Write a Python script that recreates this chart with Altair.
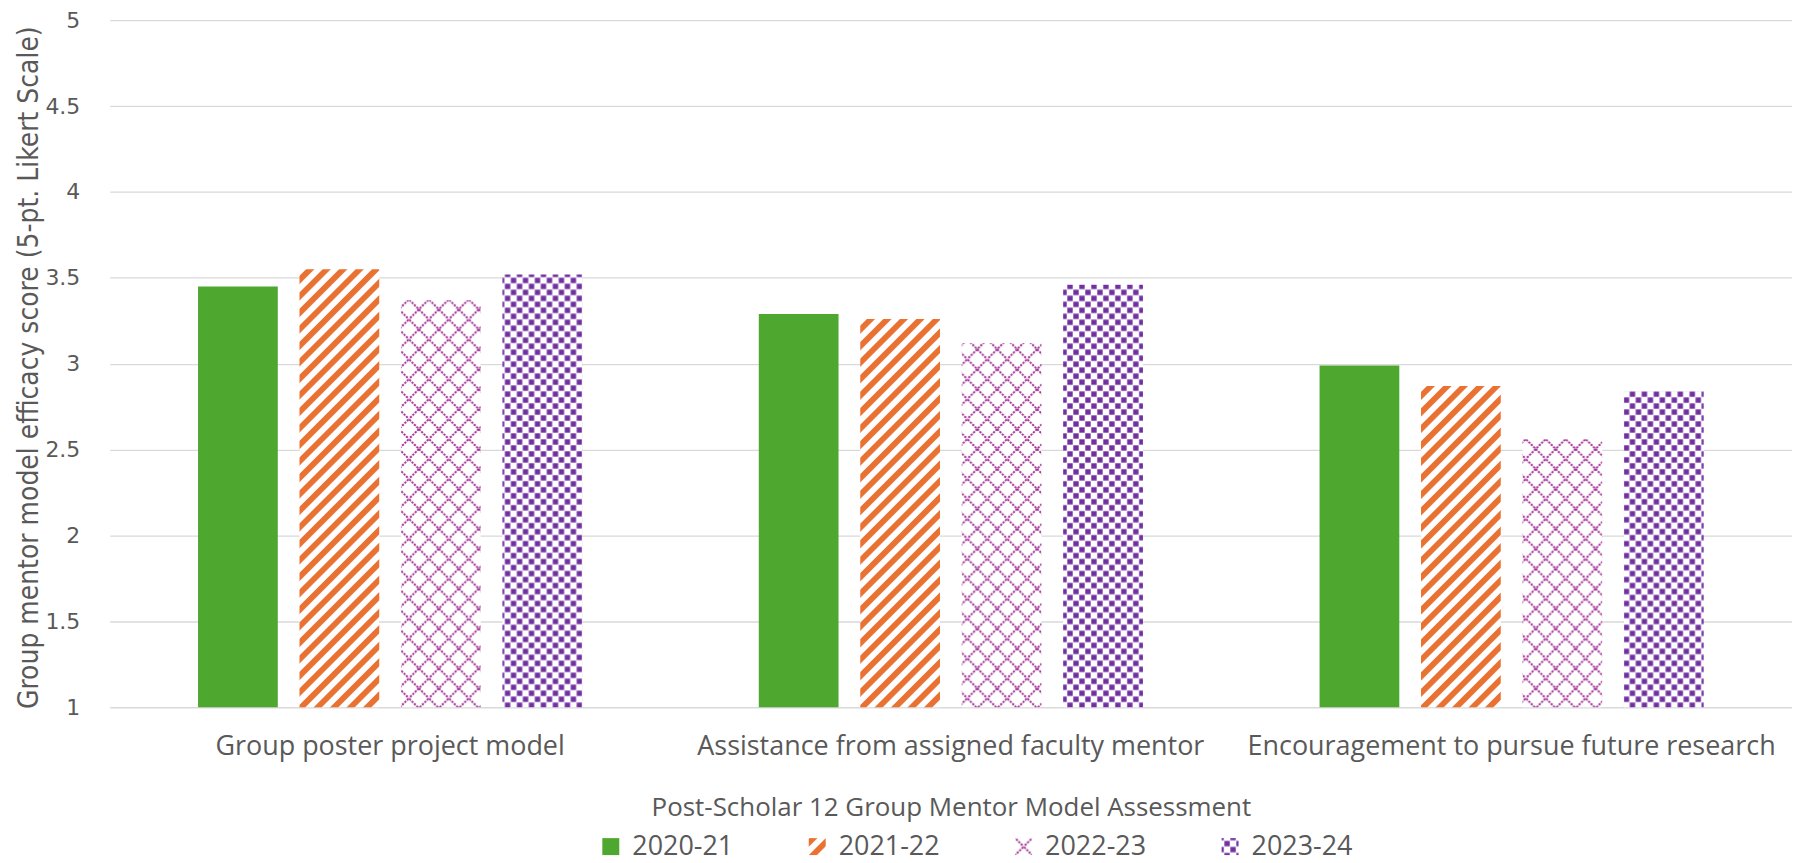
import altair as alt
import pandas as pd
import jinja2

# ---------------- data ----------------
categories = [
    "Group poster project model",
    "Assistance from assigned faculty mentor",
    "Encouragement to pursue future research",
]
years = ["2020-21", "2021-22", "2022-23", "2023-24"]
v_2020_21 = [3.45, 3.29, 2.99]
v_2021_22 = [3.55, 3.26, 2.87]
v_2022_23 = [3.37, 3.12, 2.56]
v_2023_24 = [3.52, 3.46, 2.84]
y_ticks = [1, 1.5, 2, 2.5, 3, 3.5, 4, 4.5, 5]

series = [v_2020_21, v_2021_22, v_2022_23, v_2023_24]
rows = []
for yr, vals in zip(years, series):
    for cat, v in zip(categories, vals):
        rows.append({"category": cat, "year": yr, "score": v})
df = pd.DataFrame(rows)

# fills: solid green, orange stripes, pink lattice, purple checkerboard
fills = ["#4EA72E", "url(#stripeOrange)", "url(#latticePink)", "url(#checkPurple)"]

TEXT = "#595959"
BODY_FONT = "Open Sans"
NARROW_FONT = "Liberation Sans Narrow, DejaVu Sans Condensed, Roboto Condensed, Roboto"

bars = alt.Chart(df).mark_bar().encode(
    x=alt.X(
        "category:N",
        sort=categories,
        scale=alt.Scale(paddingInner=0.315, paddingOuter=0.1575),
        axis=alt.Axis(
            title="Post-Scholar 12 Group Mentor Model Assessment",
            titleFont=BODY_FONT,
            titleFontSize=26,
            titleFontWeight="normal",
            titleColor=TEXT,
            titleY=101,
            titleBaseline="middle",
            labelAngle=0,
            labelFont=BODY_FONT,
            labelFontSize=27,
            labelColor=TEXT,
            labelBaseline="top",
            labelPadding=26,
            labelLimit=0,
            ticks=False,
            tickSize=0,
            domain=False,
            grid=False,
        ),
    ),
    xOffset=alt.XOffset(
        "year:N", sort=years, scale=alt.Scale(paddingInner=0.214, paddingOuter=0)
    ),
    y=alt.Y(
        "score:Q",
        scale=alt.Scale(domain=[1, 5], nice=False, zero=False),
        axis=alt.Axis(
            title="Group mentor model efficacy score (5-pt. Likert Scale)",
            titleFont=NARROW_FONT,
            titleFontSize=28,
            titleFontWeight="normal",
            titleColor=TEXT,
            titleX=-80,
            titleY=348,
            titleAngle=-90,
            titleBaseline="middle",
            titleAlign="center",
            values=y_ticks,
            format=".1~f",
            labelFont="DejaVu Sans",
            labelFontSize=22,
            labelColor=TEXT,
            labelPadding=30,
            ticks=False,
            tickSize=0,
            domain=False,
            grid=True,
            gridColor="#D9D9D9",
            gridWidth=1.3,
        ),
    ),
    y2=alt.datum(1),
    color=alt.Color(
        "year:N",
        sort=years,
        scale=alt.Scale(domain=years, range=fills),
        legend=alt.Legend(
            title=None,
            orient="none",
            direction="horizontal",
            columns=4,
            legendX=489,
            legendY=815,
            columnPadding=70,
            padding=0,
            symbolType="square",
            symbolSize=289,
            symbolStrokeWidth=0,
            labelFont=BODY_FONT,
            labelFontSize=27,
            labelColor=TEXT,
            labelOffset=8,
            labelLimit=0,
        ),
    ),
)

chart = bars.properties(
    width=1687,
    height=689,
    autosize="none",
    padding={"left": 102, "top": 11, "right": 0, "bottom": 155},
    background="white",
).configure_view(stroke=None)

DEFS = """<style>html,body{overflow:hidden;}</style>
<svg width="0" height="0" style="position:absolute;width:0;height:0;overflow:hidden" aria-hidden="true"><defs>
<pattern id="stripeOrange" patternUnits="userSpaceOnUse" width="11.7" height="11.7" patternTransform="rotate(45)">
<rect x="0" y="0" width="11.7" height="11.7" fill="#ffffff"/>
<rect x="0" y="0" width="5.8" height="11.7" fill="#E97132"/>
</pattern>
<pattern id="latticePink" patternUnits="userSpaceOnUse" width="20" height="20">
<rect width="20" height="20" fill="#ffffff"/>
<path d="M-2,-2 L22,22 M22,-2 L-2,22" stroke="#A02B93" stroke-width="1.9" stroke-dasharray="2.2 1.2" fill="none"/>
</pattern>
<pattern id="checkPurple" patternUnits="userSpaceOnUse" width="12" height="12">
<rect width="12" height="12" fill="#ffffff"/>
<rect x="0.3" y="0.3" width="5.4" height="5.4" fill="#7030A0"/>
<rect x="6.3" y="6.3" width="5.4" height="5.4" fill="#7030A0"/>
</pattern>
</defs></svg>"""

try:
    from altair.utils.html import TEMPLATES as _TPL
    _BASE = _TPL["standard"]
except Exception:
    from altair.utils.html import HTML_TEMPLATE as _BASE


class PatternTemplate(jinja2.Template):
    def render(self, *args, **kwargs):
        html = _BASE.render(*args, **kwargs)
        if "<body>" in html:
            return html.replace("<body>", "<body>\n" + DEFS, 1)
        return DEFS + html


chart.save(
    "out.html",
    embed_options={"renderer": "svg", "actions": False},
    template=PatternTemplate(""),
)
